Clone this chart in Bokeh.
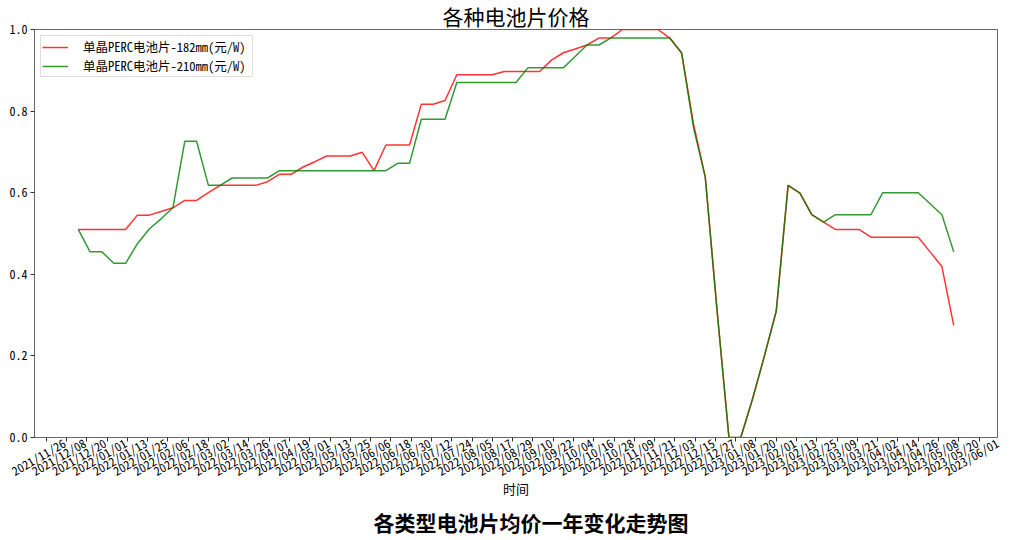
import math
import pandas as pd
from bokeh.plotting import figure
from bokeh.models import (ColumnDataSource, Range1d, FixedTicker, NumeralTickFormatter,
                          Title, Legend, LegendItem, DatetimeAxis)
from bokeh.embed import file_html
from bokeh.resources import INLINE

# ---------------- data ----------------
dates = pd.date_range("2021-12-15", periods=75, freq="7D")

perc_182 = [
    0.510, 0.510, 0.510, 0.510, 0.510,
    0.545, 0.545, 0.554, 0.563, 0.581,
    0.581, 0.600, 0.618, 0.618, 0.618,
    0.618, 0.627, 0.645, 0.645, 0.663,
    0.676, 0.690, 0.690, 0.690, 0.699,
    0.654, 0.717, 0.717, 0.717, 0.817,
    0.817, 0.826, 0.889, 0.889, 0.889,
    0.889, 0.897, 0.897, 0.897, 0.897,
    0.925, 0.943, 0.952, 0.962, 0.979,
    0.979, 1.000, 1.000, 1.000, 1.000,
    0.979, 0.942, 0.769, 0.638, 0.310,
    0.000, 0.000, 0.095, 0.200, 0.310,
    0.618, 0.599, 0.546, 0.528, 0.510,
    0.510, 0.510, 0.491, 0.491, 0.491,
    0.491, 0.491, 0.455, 0.419, 0.275,
]

perc_210 = [
    0.510, 0.455, 0.455, 0.427, 0.427,
    0.475, 0.511, 0.536, 0.563, 0.726,
    0.726, 0.618, 0.618, 0.636, 0.636,
    0.636, 0.636, 0.654, 0.654, 0.654,
    0.654, 0.654, 0.654, 0.654, 0.654,
    0.654, 0.654, 0.672, 0.672, 0.780,
    0.780, 0.780, 0.870, 0.870, 0.870,
    0.870, 0.870, 0.870, 0.906, 0.906,
    0.906, 0.906, 0.934, 0.962, 0.962,
    0.979, 0.979, 0.979, 0.979, 0.979,
    0.979, 0.943, 0.760, 0.638, 0.310,
    0.000, 0.000, 0.095, 0.200, 0.310,
    0.618, 0.599, 0.546, 0.528, 0.546,
    0.546, 0.546, 0.546, 0.600, 0.600,
    0.600, 0.600, 0.573, 0.546, 0.455,
]

series_names = ["单晶PERC电池片-182mm(元/W)", "单晶PERC电池片-210mm(元/W)"]
tick_dates = pd.date_range("2021-11-26", "2023-06-01", freq="12D")
tick_labels = [d.strftime("%Y/%m/%d") for d in tick_dates]
y_ticks = [0.0, 0.2, 0.4, 0.6, 0.8, 1.0]
title_text = "各种电池片价格"
x_label = "时间"
caption_text = "各类型电池片均价一年变化走势图"

FONT = "Noto Sans CJK SC"
MONO = "Noto Sans Mono CJK SC"

DAY_MS = 86400000.0


def ms(ts):
    return pd.Timestamp(ts).value / 1e6


span = ms(dates[-1]) - ms(dates[0])
pad = 0.05 * span

FW, FH = 963, 408

p = figure(frame_width=FW, frame_height=FH, x_axis_type="datetime",
           x_range=Range1d(ms(dates[0]) - pad, ms(dates[-1]) + pad),
           y_range=Range1d(0, 1),
           output_backend="svg", toolbar_location=None,
           min_border_left=34, min_border_right=15, min_border_top=29, min_border_bottom=95)

p.background_fill_color = "white"
p.border_fill_color = "white"
p.xgrid.visible = False
p.ygrid.visible = False
p.outline_line_color = "#666666"
p.outline_line_width = 1

p.title.text = title_text
p.title.align = "center"
p.title.text_font = FONT
p.title.text_font_size = "21px"
p.title.text_font_style = "normal"
p.title.text_color = "black"
p.title.standoff = -3

src = ColumnDataSource(dict(date=dates, s182=perc_182, s210=perc_210))
r1 = p.line(x="date", y="s182", source=src, line_color="red", line_alpha=0.8, line_width=1.5)
r2 = p.line(x="date", y="s210", source=src, line_color="green", line_alpha=0.8, line_width=1.5)

# axis carrying the tick marks (its own labels are not painted)
tick_ms = [ms(d) for d in tick_dates]
xa = p.xaxis[0]
xa.ticker = FixedTicker(ticks=tick_ms)
xa.major_label_text_font_size = "1px"
xa.major_label_text_color = None
xa.major_label_standoff = 0
xa.minor_tick_line_color = None
xa.major_tick_out = 4
xa.major_tick_in = 0
xa.major_tick_line_color = "#333333"
xa.axis_line_color = "#666666"

# axis carrying the rotated date labels, roughly centred under the ticks
SHIFT_DAYS = 10.7
label_ms = [t + SHIFT_DAYS * DAY_MS for t in tick_ms]
xl = DatetimeAxis(ticker=FixedTicker(ticks=label_ms),
                  major_label_overrides={t: lab for t, lab in zip(label_ms, tick_labels)})
xl.major_label_orientation = math.radians(30)
xl.major_label_text_font = MONO
xl.major_label_text_font_size = "12px"
xl.major_label_text_color = "black"
xl.major_label_standoff = 0
xl.major_tick_line_color = None
xl.minor_tick_line_color = None
xl.major_tick_out = 0
xl.major_tick_in = 0
xl.axis_line_color = None
xl.axis_label = x_label
xl.axis_label_text_font = FONT
xl.axis_label_text_font_size = "13px"
xl.axis_label_text_font_style = "normal"
xl.axis_label_text_color = "black"
xl.axis_label_standoff = -10
p.add_layout(xl, "below")

ya = p.yaxis[0]
ya.ticker = FixedTicker(ticks=y_ticks)
ya.formatter = NumeralTickFormatter(format="0.0")
ya.minor_tick_line_color = None
ya.major_tick_out = 4
ya.major_tick_in = 0
ya.major_tick_line_color = "#333333"
ya.axis_line_color = "#666666"
ya.major_label_standoff = 3
ya.major_label_text_font = MONO
ya.major_label_text_font_size = "12px"
ya.major_label_text_color = "black"

p.add_layout(Title(text=caption_text, align="left", offset=339, text_font=FONT,
                   text_font_size="21px", text_font_style="bold", text_color="black",
                   standoff=6), "below")

legend = Legend(items=[LegendItem(label=series_names[0], renderers=[r1]),
                       LegendItem(label=series_names[1], renderers=[r2])],
                location="top_left", margin=6, padding=1, spacing=-3,
                glyph_width=26, glyph_height=12, label_height=12, label_width=168,
                label_standoff=15,
                label_text_font=MONO, label_text_font_size="12.5px", label_text_color="black",
                border_line_color="#bbbbbb", border_line_width=1,
                background_fill_color="white", background_fill_alpha=0.9)
p.add_layout(legend)

open("out.html", "w").write(file_html(p, INLINE))
